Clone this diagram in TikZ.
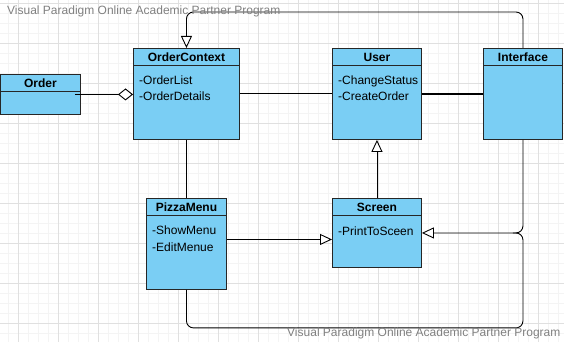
\documentclass[tikz,border=0pt]{standalone}
\usepackage{fontspec}
\setmainfont{Liberation Sans}
\usetikzlibrary{arrows.meta}
\definecolor{classblue}{RGB}{122,206,244}
\definecolor{gridminor}{RGB}{244,244,244}
\definecolor{gridmajor}{RGB}{224,224,224}
\definecolor{markgray}{RGB}{128,128,128}

\begin{document}
\begin{tikzpicture}[x=1pt, y=-1pt, body/.style={draw=black!85, fill=classblue, line width=0.9pt, anchor=north west, inner sep=0pt}, head/.style={draw=black!85, fill=classblue, line width=0.9pt, anchor=north west, inner sep=0pt, minimum height=17pt, font=\fontsize{12}{14}\selectfont\bfseries}, attr/.style={anchor=base west, align=left, inner sep=0pt, font=\fontsize{12}{17}\selectfont}, n/.style={line width=0.9pt}, gen/.style={-{Triangle[open, fill=white, length=12pt, width=11pt]}, line width=0.9pt}, agg/.style={-{Diamond[open, fill=white, length=15pt, width=12pt]}, line width=0.9pt}, wmark/.style={anchor=west, inner sep=0pt, text=markgray, font=\fontsize{12}{14}\selectfont}]
            \useasboundingbox (0,0) rectangle (564,342);
            % grid
            \foreach \gx in {8,18,...,558} \draw[gridminor, line width=0.5pt] (\gx,0) -- (\gx,342);
            \foreach \gy in {3,13,...,333} \draw[gridminor, line width=0.5pt] (0,\gy) -- (564,\gy);
            \foreach \gx in {18,58,...,558} \draw[gridmajor, line width=0.6pt] (\gx,0) -- (\gx,342);
            \foreach \gy in {3,43,...,323} \draw[gridmajor, line width=0.6pt] (0,\gy) -- (564,\gy);
            % nodes (attribute lists sit on the baseline of their last line)
            \node[body, minimum width=80pt, minimum height=40pt] (order) at (0,74) {};
            \node[head, minimum width=80pt] (orderh) at (order.north west) {Order};
            \node[body, minimum width=106pt, minimum height=91pt] (ctx) at (133,48) {};
            \node[head, minimum width=106pt] (ctxh) at (ctx.north west) {OrderContext};
            \node[attr] (ctxa) at ([shift={(6pt,-53pt)}]ctx.north west) {-OrderList\\-OrderDetails};
            \node[body, minimum width=89pt, minimum height=91pt] (user) at (332,48) {};
            \node[head, minimum width=89pt] (userh) at (user.north west) {User};
            \node[attr] (usera) at ([shift={(6pt,-53pt)}]user.north west) {-ChangeStatus\\-CreateOrder};
            \node[body, minimum width=79pt, minimum height=91pt] (iface) at (483,48) {};
            \node[head, minimum width=79pt] (ifaceh) at (iface.north west) {Interface};
            \node[body, minimum width=80pt, minimum height=91pt] (pizza) at (146,198) {};
            \node[head, minimum width=80pt] (pizzah) at (pizza.north west) {PizzaMenu};
            \node[attr] (pizzaa) at ([shift={(6pt,-53pt)}]pizza.north west) {-ShowMenu\\-EditMenue};
            \node[body, minimum width=89pt, minimum height=69pt] (screen) at (332,198) {};
            \node[head, minimum width=89pt] (screenh) at (screen.north west) {Screen};
            \node[attr] (screena) at ([shift={(6pt,-37pt)}]screen.north west) {-PrintToSceen};
            % edges
            \draw[agg] ([xshift=-6pt]order.east) -- (ctx.west |- order.east);
            \draw[n] (ctx.east) -- (user.west);
            \draw[n, line width=1.6pt] (user.east) -- (iface.west);
            \draw[gen, rounded corners=7pt] (iface.north) -- ++(0,-36) -| (ctx.north);
            \draw[n] (ctx.south) -- (pizza.north);
            \draw[gen] ([yshift=4.5pt]pizza.east) -- ([yshift=4.5pt]pizza.east -| screen.west);
            \draw[gen] (screen.north) -- (user.south);
            \draw[gen, rounded corners=7pt] (iface.south) |- (screen.east);
            \draw[n, rounded corners=7pt] (pizza.south) -- ++(0,38) -| (iface.south |- screen.east) -- ++(-10,0);
            % watermarks
            \node[wmark] (wmtop) at (7,11) {Visual Paradigm Online Academic Partner Program};
            \node[wmark] (wmbottom) at (287,333) {Visual Paradigm Online Academic Partner Program};
        \end{tikzpicture}
\end{document}
